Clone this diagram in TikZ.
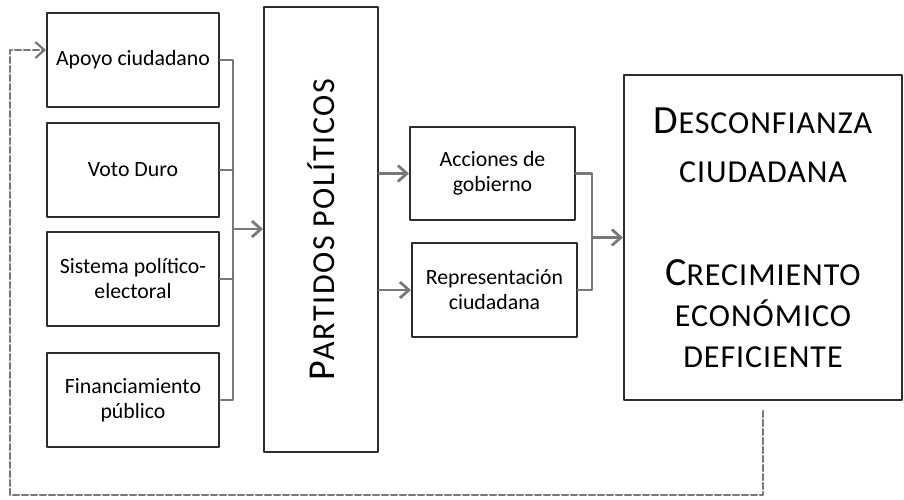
\documentclass[tikz,border=0pt]{standalone}
\usepackage{fontspec}
\setmainfont{Carlito}
\newfontfamily\spacedfont[LetterSpace=3]{Carlito}
\newfontfamily\widefont[LetterSpace=5]{Carlito}
\usetikzlibrary{arrows.meta}

\definecolor{boxgray}{RGB}{45,45,45}
\definecolor{linegray}{RGB}{120,120,120}

\newcommand{\capsD}[2]{{\fontsize{20}{20.5}\selectfont #1}{\spacedfont\fontsize{16}{20.5}\selectfont #2}}
\newcommand{\capsP}[2]{{\fontsize{19}{20}\selectfont #1}{\widefont\fontsize{16}{20}\selectfont #2}}

\begin{document}
\begin{tikzpicture}[x=0.5pt, y=-0.5pt, line cap=round, line join=round, >={Straight Barb[length=4.5pt,width=8pt]},
    box/.style={draw=boxgray, line width=1pt, fill=white, align=center, inner sep=0pt, font=\fontsize{10.9}{12.5}\selectfont},
    wire/.style={draw=linegray, line width=1.4pt},
    fb/.style={draw=linegray, line width=1.1pt, dash pattern=on 3pt off 1.5pt}]
    \useasboundingbox (0,0) rectangle (904,499);
    % entradas
    \draw(133,60) node[box, minimum width=86pt, minimum height=47pt] (n0) {Apoyo ciudadano};
    \draw(133,170) node[box, minimum width=86pt, minimum height=47pt] (n1) {Voto Duro};
    \draw(133,279) node[box, minimum width=86pt, minimum height=47pt] (n2) {Sistema político-\\electoral};
    \draw(133,400) node[box, minimum width=86pt, minimum height=47pt] (n3) {Financiamiento\\público};
    % partidos
    \draw(321,229.5) node[box, minimum width=57pt, minimum height=222.5pt] (n4) {};
    \draw(n4) node[rotate=90] {\capsP{P}{ARTIDOS POLÍTICOS}};
    \draw(492.5,173.5) node[box, minimum width=82.5pt, minimum height=46.5pt] (n5) {Acciones de\\gobierno};
    \draw(494.5,290) node[box, minimum width=82.5pt, minimum height=47pt] (n6) {Representación\\ciudadana};
    \draw(763,237.5) node[box, minimum width=139pt, minimum height=162.5pt, font=\fontsize{20}{20.5}\selectfont] (n7)
        {\capsD{D}{ESCONFIANZA}\\[4pt]\capsD{}{CIUDADANA}\\[31pt]\capsD{C}{RECIMIENTO}\\\capsD{}{ECONÓMICO}\\\capsD{}{DEFICIENTE}};
    % conectores
    \coordinate (b) at (233,229);
    \coordinate (c) at (592,237.5);
    \coordinate (r) at (10,495);
    \draw[wire] (n0.east) -- (n0.east -| b) -- (n3.east -| b) -- (n3.east);
    \draw[wire] (n1.east) -- (n1.east -| b);
    \draw[wire] (n2.east) -- (n2.east -| b);
    \draw[wire, ->] (b) -- (n4.west |- b);
    \draw[wire, ->] (n5.west -| n4.east) -- (n5.west);
    \draw[wire, ->] (n6.west -| n4.east) -- (n6.west);
    \draw[wire] (n5.east) -- (n5.east -| c) -- (n6.east -| c) -- (n6.east);
    \draw[wire, ->] (c) -- (n7.west);
    \draw[fb, ->] ([yshift=-5pt]n7.south) |- (r) |- ([yshift=5pt]n0.west);
\end{tikzpicture}
\end{document}
